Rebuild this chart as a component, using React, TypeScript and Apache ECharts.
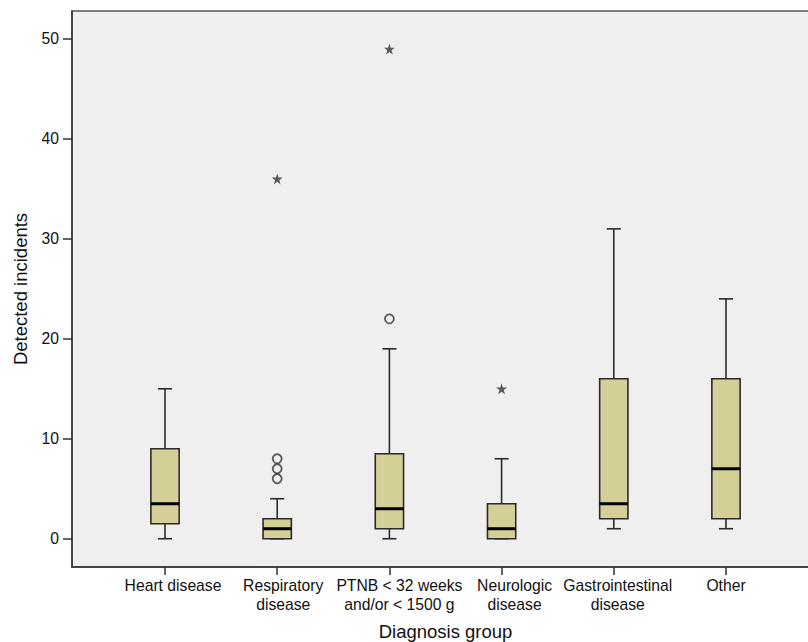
import React, { useEffect, useRef } from "react";
import * as echarts from "echarts";

const categories = [
  "Heart disease",
  "Respiratory\ndisease",
  "PTNB < 32 weeks\nand/or < 1500 g",
  "Neurologic\ndisease",
  "Gastrointestinal\ndisease",
  "Other",
];
// [min, q1, median, q3, max]
const boxStats = [
  [0, 1.5, 3.5, 9, 15],
  [0, 0, 1, 2, 4],
  [0, 1, 3, 8.5, 19],
  [0, 0, 1, 3.5, 8],
  [1, 2, 3.5, 16, 31],
  [1, 2, 7, 16, 24],
];
// [categoryIndex, value]
const circleOutliers = [
  [1, 6],
  [1, 7],
  [1, 8],
  [2, 22],
];
const extremeOutliers = [
  [1, 36],
  [2, 49],
  [3, 15],
];
const yTicks = [0, 10, 20, 30, 40, 50];

const STAR =
  "path://M50,0 L61.2,34.5 L97.6,34.5 L68.2,55.9 L79.4,90.5 L50,69.1 L20.6,90.5 L31.8,55.9 L2.4,34.5 L38.8,34.5 Z";

// label horizontal shifts (px) as seen in the original layout
const labelShift = [8, 6, 10, 13, 4, 0];

export default function App() {
  const ref = useRef<HTMLDivElement>(null);
  useEffect(() => {
    if (!ref.current) return;
    const chart = echarts.init(ref.current, null, { renderer: "svg" });
    const xPos = categories.map((_, i) => i + 1);
    const boxData = boxStats.map((s, i) => [i + 1, ...s]);
    const font = "'Liberation Sans', Arial, sans-serif";
    const rich: Record<string, any> = {};
    labelShift.forEach((s, i) => {
      rich["c" + i] = {
        padding: [0, 0, 0, s * 2],
        color: "#111",
        fontFamily: font,
        fontSize: 15.7,
        lineHeight: 19,
      };
    });
    chart.setOption({
      animation: false,
      backgroundColor: "#ffffff",
      grid: {
        left: 72,
        top: 11,
        bottom: 75,
        right: -11,
        outerBoundsMode: "none",
        containLabel: false,
        show: true,
        backgroundColor: "#efefef",
        borderColor: "#555555",
        borderWidth: 1.5,
      },
      xAxis: {
        type: "value",
        min: 0.171,
        max: 6.829,
        splitLine: { show: false },
        axisLine: { show: true, onZero: false, lineStyle: { color: "#333", width: 1.5 } },
        axisTick: {
          show: true,
          customValues: xPos,
          length: 8,
          lineStyle: { color: "#333", width: 1.5 },
        },
        axisLabel: {
          customValues: xPos,
          formatter: (v: number) => {
            const i = Math.round(v) - 1;
            const t = categories[i];
            if (!t) return "";
            return t
              .split("\n")
              .map((line) => `{c${i}|${line}}`)
              .join("\n");
          },
          rich,
          color: "#111",
          fontFamily: font,
          fontSize: 15.7,
          lineHeight: 19,
          margin: 9,
        },
        name: "Diagnosis group",
        nameLocation: "middle",
        nameGap: 55,
        nameTextStyle: { color: "#111", fontFamily: font, fontSize: 18.5 },
      },
      yAxis: {
        type: "value",
        min: -2.83,
        max: 52.8,
        splitLine: { show: false },
        axisLine: { show: true, onZero: false, lineStyle: { color: "#333", width: 1.5 } },
        axisTick: {
          show: true,
          customValues: yTicks,
          length: 9,
          lineStyle: { color: "#333", width: 1.5 },
        },
        axisLabel: {
          customValues: yTicks,
          color: "#111",
          fontFamily: font,
          fontSize: 15.7,
          margin: 13,
        },
        name: "Detected incidents",
        nameLocation: "middle",
        nameGap: 42,
        nameTextStyle: { color: "#111", fontFamily: font, fontSize: 18.5 },
      },
      series: [
        {
          type: "custom",
          data: boxData,
          encode: { x: 0, y: [1, 2, 3, 4, 5] },
          renderItem: (params: any, api: any) => {
            const x = api.value(0);
            const c = (v: number) => api.coord([x, v]);
            const [cx, yMin] = c(api.value(1));
            const yQ1 = c(api.value(2))[1];
            const yMed = c(api.value(3))[1];
            const yQ3 = c(api.value(4))[1];
            const yMax = c(api.value(5))[1];
            const bw = api.size([0.252, 0])[0];
            const cw = bw / 2;
            const stroke = "#2b2b2b";
            const ls = { stroke, lineWidth: 1.6 };
            return {
              type: "group",
              children: [
                { type: "line", shape: { x1: cx, y1: yQ3, x2: cx, y2: yMax }, style: ls },
                { type: "line", shape: { x1: cx, y1: yMin, x2: cx, y2: yQ1 }, style: ls },
                { type: "line", shape: { x1: cx - cw / 2, y1: yMax, x2: cx + cw / 2, y2: yMax }, style: ls },
                { type: "line", shape: { x1: cx - cw / 2, y1: yMin, x2: cx + cw / 2, y2: yMin }, style: ls },
                {
                  type: "rect",
                  shape: { x: cx - bw / 2, y: yQ3, width: bw, height: yQ1 - yQ3 },
                  style: { fill: "#d4cf96", stroke, lineWidth: 1.6 },
                },
                {
                  type: "line",
                  shape: { x1: cx - bw / 2, y1: yMed, x2: cx + bw / 2, y2: yMed },
                  style: { stroke: "#000", lineWidth: 3 },
                },
              ],
            };
          },
        },
        {
          type: "scatter",
          data: circleOutliers.map(([i, v]) => [i + 1, v]),
          symbol: "circle",
          symbolSize: 9,
          itemStyle: { color: "rgba(0,0,0,0)", borderColor: "#333", borderWidth: 1.8 },
        },
        {
          type: "scatter",
          data: extremeOutliers.map(([i, v]) => [i + 1, v]),
          symbol: STAR,
          symbolSize: 11,
          itemStyle: { color: "#333" },
        },
      ],
    });
    return () => chart.dispose();
  }, []);
  return (
    <div
      ref={ref}
      style={{ position: "fixed", left: 0, top: 0, width: 808, height: 642 }}
    />
  );
}
